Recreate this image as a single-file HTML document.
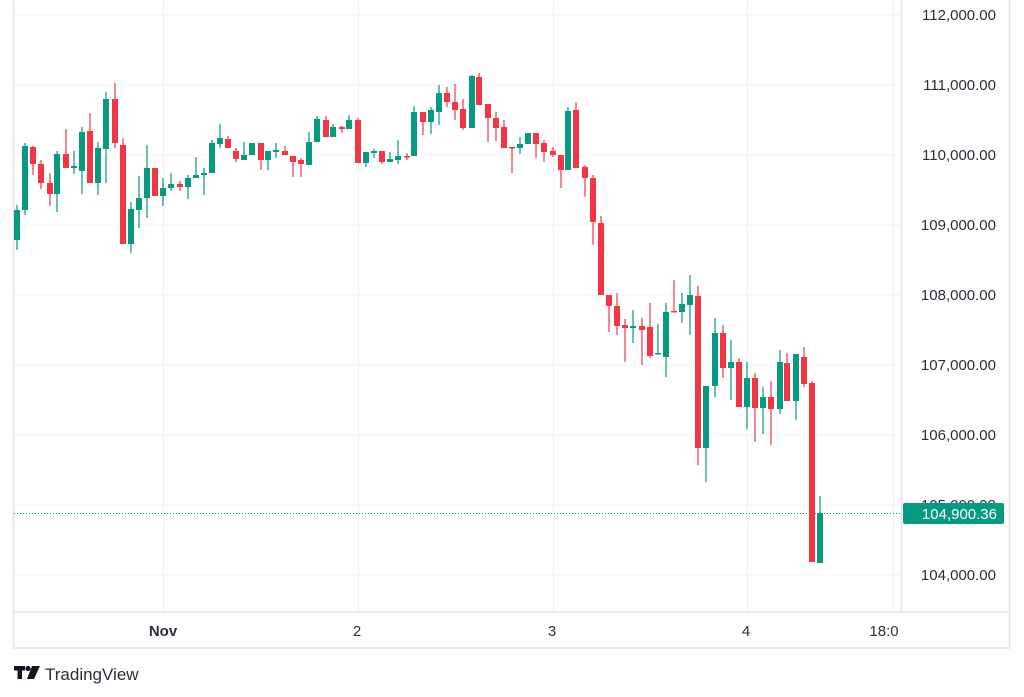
<!DOCTYPE html>
<html><head><meta charset="utf-8"><style>
html,body{margin:0;padding:0;background:#fff;}
svg{display:block;font-family:"Liberation Sans",sans-serif;}
</style></head><body>
<svg id="s" width="1024" height="697" viewBox="0 0 1024 697" xmlns="http://www.w3.org/2000/svg">
<rect width="1024" height="697" fill="#fff"/>
<g stroke="#f0f1f4" stroke-width="1">
<line x1="14" y1="15" x2="900" y2="15"/>
<line x1="14" y1="85" x2="900" y2="85"/>
<line x1="14" y1="155" x2="900" y2="155"/>
<line x1="14" y1="225" x2="900" y2="225"/>
<line x1="14" y1="295" x2="900" y2="295"/>
<line x1="14" y1="365" x2="900" y2="365"/>
<line x1="14" y1="435" x2="900" y2="435"/>
<line x1="14" y1="505" x2="900" y2="505"/>
<line x1="14" y1="575" x2="900" y2="575"/>
<line x1="163.5" y1="0" x2="163.5" y2="612"/>
<line x1="358.5" y1="0" x2="358.5" y2="612"/>
<line x1="553.5" y1="0" x2="553.5" y2="612"/>
<line x1="747.5" y1="0" x2="747.5" y2="612"/>
<line x1="893.5" y1="0" x2="893.5" y2="612"/>
</g>
<g stroke="#e0e3eb" stroke-width="1.5" fill="none">
<line x1="13.5" y1="0" x2="13.5" y2="648"/>
<line x1="13" y1="612" x2="1010" y2="612"/>
<line x1="13" y1="648" x2="1010" y2="648"/>
<line x1="1009.5" y1="0" x2="1009.5" y2="648"/>
<line x1="901.5" y1="0" x2="901.5" y2="612"/>
</g>
<line x1="14" y1="513.5" x2="900" y2="513.5" stroke="#089981" stroke-width="1" stroke-dasharray="1,2"/>
<g id="c"></g>
<g fill="#2a2e39" font-size="15" text-anchor="end">
<text x="996" y="20">112,000.00</text>
<text x="996" y="90">111,000.00</text>
<text x="996" y="160">110,000.00</text>
<text x="996" y="230">109,000.00</text>
<text x="996" y="300">108,000.00</text>
<text x="996" y="370">107,000.00</text>
<text x="996" y="440">106,000.00</text>
<text x="996" y="510">105,000.00</text>
<text x="996" y="580">104,000.00</text>
</g>
<rect x="903" y="503" width="101" height="21" rx="2" fill="#089981"/>
<text x="997" y="519" fill="#fff" font-size="15" text-anchor="end">104,900.36</text>
<g fill="#2a2e39" font-size="15" text-anchor="middle">
<text x="163" y="636" font-weight="bold">Nov</text>
<text x="357" y="636">2</text>
<text x="552" y="636">3</text>
<text x="746" y="636">4</text>
<text x="884" y="636">18:0</text>
</g>
<g fill="#131722">
<rect x="14" y="666" width="11" height="4.5"/>
<rect x="17.5" y="666" width="4.5" height="13"/>
<circle cx="28" cy="668.5" r="2.6"/>
<polygon points="32,666 40,666 34,679 27,679"/>
</g>
<text x="45" y="680" fill="#2a2e39" font-size="17">TradingView</text>
</svg>
<script>
var G='#089981',R='#f23645';
var d=[
[17,G,210,240,205,250],[25,G,146,210,143,215],[33,R,147,164,146,175],[41,R,164,183,160,189],[50,R,183,194,173,206],
[57,G,154,194,151,212],[66,R,154,168,129,168],[74,G,166,168,151,174],[82,G,132,171,127,194],[90,R,131,183,113,183],
[98,G,148,183,142,195],[106,G,99,149,92,183],[115,R,99,143,83,148],[123,R,145,244,138,244],[131,G,209,244,202,253],
[139,G,198,210,176,228],[147,G,168,198,145,218],[155,R,168,196,168,196],[163,G,188,196,178,206],[171,G,184,188,173,191],
[180,R,184,187,181,191],[188,G,178,187,175,199],[196,G,175,178,157,178],[204,G,173,175,168,195],[212,G,143,173,140,173],
[220,G,138,144,124,148],[228,R,139,148,136,148],[236,R,151,159,148,162],[244,G,155,160,142,160],[252,G,143,155,143,155],
[261,R,143,160,143,170],[268,G,151,160,151,170],[276,G,150,152,143,158],[285,R,151,155,146,155],[293,R,156,162,156,177],
[301,R,160,164,158,177],[309,G,142,165,132,165],[317,G,119,142,116,142],[326,R,120,137,116,137],[333,G,127,137,124,137],
[342,R,127,129,126,133],[349,G,120,129,115,129],[358,R,120,163,118,163],[366,G,152,163,152,167],[374,G,151,153,149,158],
[382,R,151,162,151,164],[390,G,159,162,152,162],[398,G,156,160,140,164],[407,R,156,157.5,153,160],[414,G,112,156,106,156],
[423,R,112,122,112,135],[431,G,110,122,107,134],[439,G,93,112,85,125],[447,R,93,102,87,107],[455,R,102,110,84,120],
[463,R,109,128,99,130],[472,G,76,128,75,128],[479,R,77,105,73,105],[488,R,104,118,104,142],[496,R,118,128,112,141],
[504,R,127,148,120,148],[512,R,147,148,147,173],[520,G,144,148,137,154],[528,G,133,144,133,144],[536,R,133,144,133,158],
[544,R,143,152,140,162],[553,R,151,155,147,157],[561,R,155,170,155,188],[568,G,111,170,107,170],[576,R,110,168,102,168],
[585,R,167,178,165,197],[593,R,178,222,175,245],[601,R,223,295,216,295],[609,R,295,306,295,332],[617,R,306,326,293,335],
[625,R,325,328,319,362],[633,G,326,328,310,343],[642,R,326,330,318,365],[650,R,327,356,303,358],[658,G,353,354.5,324,354],
[666,G,312,357,303,377],[674,R,311,312.5,280,312],[682,G,304,312,293,323],[690,G,295,305,275,335],[698,R,296,448,286,465],
[706,G,386,448,386,482],[715,G,333,386,318,397],[723,R,333,368,325,378],[731,G,362,368,340,400],[739,R,362,407,358,407],
[747,G,378,407,362,429],[755,R,378,408,373,442],[763,G,397,408,387,434],[771,R,397,409,381,445],[780,G,362,409,350,414],
[787,R,363,401,353,401],[796,G,354,401,354,420],[804,R,357,384,347,387],[812,R,383,562,381,562],[820,G,513,563,496,563]
];
var g=document.getElementById('c'),h='';
d.forEach(function(c){
h+='<line x1="'+c[0]+'" x2="'+c[0]+'" y1="'+c[4]+'" y2="'+c[5]+'" stroke="'+c[1]+'" stroke-width="1.2"/>';
var bh=Math.max(c[3]-c[2],1.5);
h+='<rect x="'+(c[0]-3)+'" y="'+c[2]+'" width="6" height="'+bh+'" fill="'+c[1]+'"/>';
});
g.innerHTML=h;
</script>
</body></html>
